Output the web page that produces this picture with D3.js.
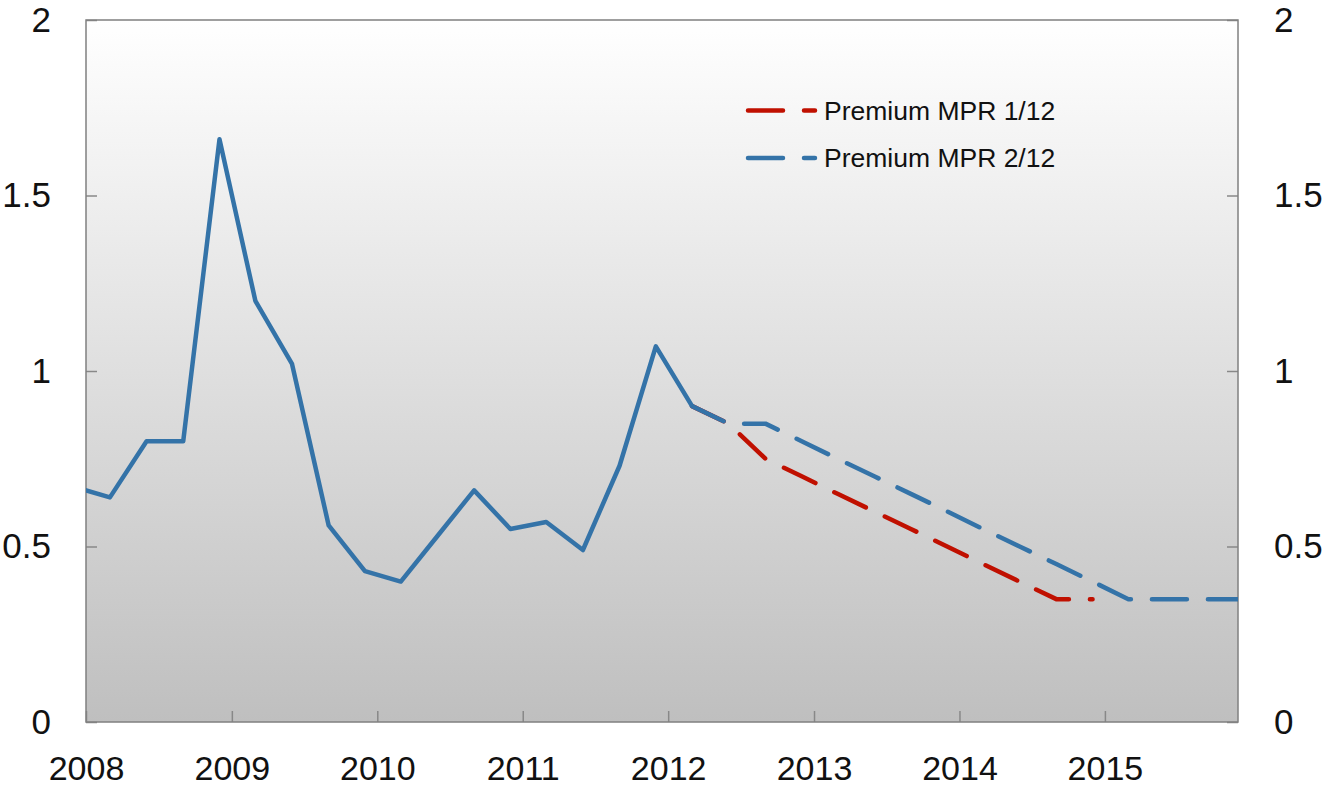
<!DOCTYPE html>
<html>
<head>
<meta charset="utf-8">
<script src="https://cdn.jsdelivr.net/npm/d3@7"></script>
<style>
  body { margin:0; background:#fff; }
  svg { display:block; font-family:"Liberation Sans", Arial, sans-serif; }
  .axis path.domain { display:none; }
  .axis line { stroke:#888; stroke-width:1.5; }
  .axis text { font-family:"Liberation Sans", Arial, sans-serif; font-size:35px; fill:#111; }
  .axis.x text { font-size:34px; }
</style>
</head>
<body>
<div id="chart"></div>
<script>
// quarterly observations, history
const histDates = ["2007-12","2008-03","2008-06","2008-09","2008-12","2009-03","2009-06","2009-09","2009-12",
  "2010-03","2010-06","2010-09","2010-12","2011-03","2011-06","2011-09","2011-12","2012-03"];
const histValues = [0.67,0.64,0.80,0.80,1.66,1.20,1.02,0.56,0.43,0.40,0.53,0.66,0.55,0.57,0.49,0.73,1.07,0.90];

// projections
const mpr1Dates = ["2012-03","2012-06","2012-09","2012-12","2013-03","2013-06","2013-09","2013-12",
  "2014-03","2014-06","2014-09","2014-12"];
const mpr1Values = [0.90,0.85,0.75,0.70,0.65,0.60,0.55,0.50,0.45,0.40,0.35,0.35];

const mpr2Dates = ["2012-03","2012-06","2012-09","2012-12","2013-03","2013-06","2013-09","2013-12",
  "2014-03","2014-06","2014-09","2014-12","2015-03","2015-06","2015-09","2015-12"];
const mpr2Values = [0.90,0.85,0.85,0.80,0.75,0.70,0.65,0.60,0.55,0.50,0.45,0.40,0.35,0.35,0.35,0.35];

const yearTicks = [2008,2009,2010,2011,2012,2013,2014,2015];
const yTicks = [0,0.5,1,1.5,2];
const legendLabels = ["Premium MPR 1/12","Premium MPR 2/12"];

const BLUE = "#3473a8", RED = "#c01000";

const width = 1328, height = 787;
const margin = { top:20, right:90, bottom:65, left:86 };
const parse = d3.timeParse("%Y-%m");
const zip = (ds, vs) => ds.map((d,i)=>({ date: parse(d), value: vs[i] }));

const hist = zip(histDates, histValues);
const mpr1 = zip(mpr1Dates, mpr1Values);
const mpr2 = zip(mpr2Dates, mpr2Values);

const svg = d3.select('#chart').append('svg').attr('width', width).attr('height', height);

const x = d3.scaleTime().domain([new Date(2008,0,1), new Date(2015,11,1)]).range([margin.left, width - margin.right]);
const y = d3.scaleLinear().domain([0,2]).range([height - margin.bottom, margin.top]);

const defs = svg.append('defs');
const grad = defs.append('linearGradient').attr('id','bg').attr('x1',0).attr('y1',0).attr('x2',0).attr('y2',1);
grad.append('stop').attr('offset','0%').attr('stop-color','#ffffff');
grad.append('stop').attr('offset','100%').attr('stop-color','#bfbfbf');
defs.append('clipPath').attr('id','plot').append('rect')
  .attr('x', x.range()[0]).attr('y', y.range()[1]).attr('width', x.range()[1]-x.range()[0]).attr('height', y.range()[0]-y.range()[1]);

svg.append('rect').attr('x', x.range()[0]).attr('y', y.range()[1])
  .attr('width', x.range()[1]-x.range()[0]).attr('height', y.range()[0]-y.range()[1])
  .attr('fill','url(#bg)');

// axes: inward ticks, labels outside
const yearDates = yearTicks.map(yr => new Date(yr,0,1));
svg.append('g').attr('class','axis x').attr('transform',`translate(0,${y(0)})`)
  .call(d3.axisBottom(x).tickValues(yearDates).tickFormat(d3.timeFormat('%Y')).tickSizeInner(-11).tickSizeOuter(0).tickPadding(34));
svg.append('g').attr('class','axis').attr('transform',`translate(${x.range()[0]},0)`)
  .call(d3.axisLeft(y).tickValues(yTicks).tickFormat(d=>String(d)).tickSizeInner(-11).tickSizeOuter(0).tickPadding(35));
svg.append('g').attr('class','axis').attr('transform',`translate(${x.range()[1]},0)`)
  .call(d3.axisRight(y).tickValues(yTicks).tickFormat(d=>String(d)).tickSizeInner(-11).tickSizeOuter(0).tickPadding(36));

// frame
svg.append('rect').attr('x', x.range()[0]).attr('y', y.range()[1])
  .attr('width', x.range()[1]-x.range()[0]).attr('height', y.range()[0]-y.range()[1])
  .attr('fill','none').attr('stroke','#808080').attr('stroke-width',1.5);

const line = d3.line().x(d=>x(d.date)).y(d=>y(d.value));
const lines = svg.append('g').attr('clip-path','url(#plot)');
const dash = '35,21';

lines.append('path').datum(mpr1).attr('d', line).attr('fill','none').attr('stroke', RED)
  .attr('stroke-width',4.5).attr('stroke-dasharray', dash).attr('stroke-linecap','round').attr('stroke-linejoin','round');
lines.append('path').datum(mpr2).attr('d', line).attr('fill','none').attr('stroke', BLUE)
  .attr('stroke-width',4.5).attr('stroke-dasharray', dash).attr('stroke-linecap','round').attr('stroke-linejoin','round');
lines.append('path').datum(hist).attr('d', line).attr('fill','none').attr('stroke', BLUE)
  .attr('stroke-width',4.5).attr('stroke-linejoin','round');

// legend
const legend = svg.append('g').attr('transform','translate(748,110.5)');
[RED, BLUE].forEach((c,i)=>{
  const row = legend.append('g').attr('transform',`translate(0,${i*47.5})`);
  row.append('line').attr('x1',0).attr('x2',67).attr('y1',0).attr('y2',0).attr('stroke',c).attr('stroke-width',4.5)
    .attr('stroke-dasharray',dash).attr('stroke-linecap','round');
  row.append('text').attr('x',76).attr('y',9).style('font-size','26.5px').style('fill','#111').text(legendLabels[i]);
});
</script>
</body>
</html>
